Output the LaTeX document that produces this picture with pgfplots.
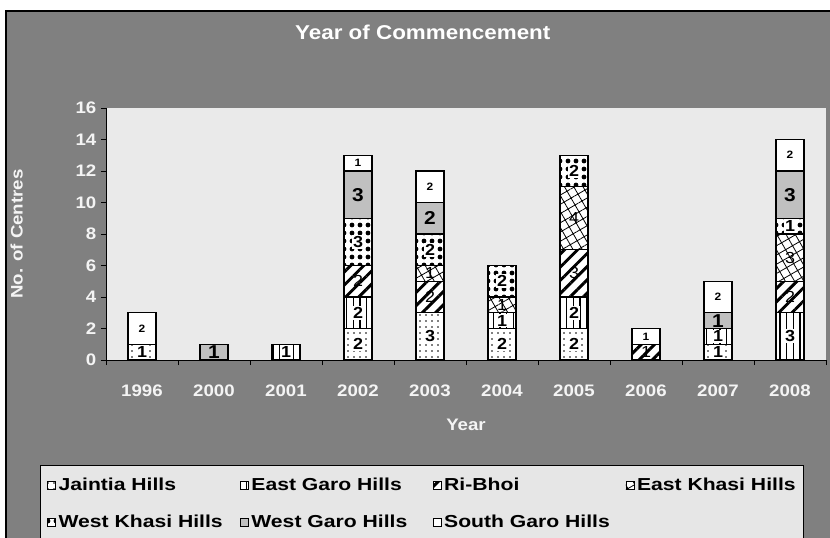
\documentclass[border=0pt]{standalone}
\usepackage{fontspec}
\setmainfont{Liberation Sans}[FakeStretch=1.12]
\newfontfamily\legfont{Liberation Sans}[FakeStretch=1.22]
\usepackage{pgfplots}
\pgfplotsset{compat=1.18}
\usepackage{pgfplotstable}
\usetikzlibrary{patterns,patterns.meta}
\definecolor{bgray}{HTML}{808080}
\definecolor{plotbg}{HTML}{EAEAEA}
\definecolor{legbg}{HTML}{E6E6E6}
\definecolor{wgh}{HTML}{C0C0C0}
\definecolor{lbl}{HTML}{F4F4F4}

\pgfplotstableread{
i JH EGH RB EKH WKH WGH SGH
0 1 0 0 0 0 0 2
1 0 0 0 0 0 1 0
2 0 1 0 0 0 0 0
3 2 2 2 0 3 3 1
4 3 0 2 1 2 2 2
5 2 1 0 1 2 0 0
6 2 2 3 4 2 0 0
7 0 0 1 0 0 0 1
8 1 1 0 0 0 1 2
9 0 3 2 3 1 3 2
}\data

\pgfplotsset{
  legsq/.style={legend image code/.code={\draw[##1,line width=0.6pt] (0pt,-3pt) rectangle (6pt,3pt);}},
  seg/.style={draw=black, line width=0.8pt, legsq,
    visualization depends on={\thisrow{#1} \as \segv},
    every node near coord/.append style={anchor=center, inner sep=0pt}},
}
\newcommand{\lblbox}[2]{\pgfmathparse{\segv>0.5}\ifnum\pgfmathresult>0 \setlength{\fboxsep}{1pt}\colorbox{white}{#1\pgfmathprintnumber[precision=0]{\segv}}\fi}
\newcommand{\lblplain}[2]{\pgfmathparse{\segv>0.5}\ifnum\pgfmathresult>0 {#1\pgfmathprintnumber[precision=0]{\segv}}\fi}

\begin{document}
\begin{tikzpicture}
\path[use as bounding box] (0,0) rectangle (622.5pt,-402.75pt);
\fill[white] (0,0) rectangle (622.5pt,-402.75pt);
\filldraw[fill=bgray, draw=black, line width=1pt] (4.5pt,-8.25pt) rectangle (624pt,-404pt);
\begin{axis}[
  at={(79.5pt,-270pt)}, anchor=south west,
  scale only axis, width=540pt, height=189pt,
  ybar stacked, bar width=21pt,
  xmin=-0.5, xmax=9.5, ymin=0, ymax=16,
  xtick={0,...,9},
  xticklabels={1996,2000,2001,2002,2003,2004,2005,2006,2007,2008},
  minor xtick={-0.5,0.5,...,9.5},
  ytick={0,2,...,16},
  axis x line*=bottom, axis y line*=left,
  axis line style={black, line width=0.75pt, -},
  tick align=outside,
  major x tick style={draw=none},
  minor tick length=3.75pt, major tick length=3.75pt,
  tick style={black, line width=0.75pt},
  axis background/.style={fill=plotbg},
  /pgf/number format/assume math mode=true,
  ticklabel style={font=\bfseries\fontsize{12.5}{12.5}\selectfont, text=lbl},
  xticklabel style={yshift=-11pt},
  title={Year of Commencement},
  title style={at={(axis description cs:0.44,1.27)}, anchor=center, text=white, font=\bfseries\fontsize{15}{15}\selectfont},
  xlabel={Year},
  xlabel style={at={(axis description cs:0.5,-0.258)}, anchor=center, text=lbl, font=\bfseries\fontsize{12.5}{12.5}\selectfont},
  ylabel={No. of Centres},
  ylabel style={at={(axis description cs:-0.124,0.5)}, anchor=center, text=lbl, font=\bfseries\fontsize{12.5}{12.5}\selectfont},
  legend columns=4,
  legend cell align=left,
  legend style={at={(axis description cs:-0.0917,-0.4167)}, anchor=north west,
    fill=legbg, draw=black, line width=0.75pt, inner xsep=5pt, inner ysep=7.5pt,
    row sep=13pt, font=\legfont\bfseries\fontsize{13}{13}\selectfont},
]
\addplot[seg=JH, fill=white, postaction={pattern={Dots[distance=4.5pt,radius=0.6pt]}},
  nodes near coords={\lblbox{\bfseries\fontsize{12}{12}\selectfont}{}}]
  table[x=i,y=JH]{\data};
\addlegendentry{\makebox[134pt][l]{Jaintia Hills}}
\addplot[seg=EGH, fill=white, postaction={pattern={Lines[angle=90,distance=5pt,line width=1pt]}},
  nodes near coords={\lblbox{\bfseries\fontsize{12}{12}\selectfont}{}}]
  table[x=i,y=EGH]{\data};
\addlegendentry{\makebox[134pt][l]{East Garo Hills}}
\addplot[seg=RB, fill=white, postaction={pattern={Lines[angle=45,distance=7pt,line width=2.2pt]}},
  nodes near coords={\lblplain{\fontsize{12}{12}\selectfont}{}}]
  table[x=i,y=RB]{\data};
\addlegendentry{\makebox[134pt][l]{Ri-Bhoi}}
\addplot[seg=EKH, fill=white, postaction={pattern={Hatch[angle=30,distance=6pt,line width=0.6pt]}},
  nodes near coords={\lblplain{\fontsize{12}{12}\selectfont}{}}]
  table[x=i,y=EKH]{\data};
\addlegendentry{\makebox[118pt][l]{East Khasi Hills}}
\addplot[seg=WKH, fill=white, postaction={pattern={Dots[distance=6pt,radius=1.8pt]}},
  nodes near coords={\lblbox{\bfseries\fontsize{12}{12}\selectfont}{}}]
  table[x=i,y=WKH]{\data};
\addlegendentry{\makebox[134pt][l]{West Khasi Hills}}
\addplot[seg=WGH, fill=wgh,
  nodes near coords={\lblplain{\bfseries\fontsize{14}{14}\selectfont}{}}]
  table[x=i,y=WGH]{\data};
\addlegendentry{\makebox[134pt][l]{West Garo Hills}}
\addplot[seg=SGH, fill=white,
  nodes near coords={\lblplain{\bfseries\fontsize{8}{8}\selectfont}{}}]
  table[x=i,y=SGH]{\data};
\addlegendentry{\makebox[134pt][l]{South Garo Hills}}
\end{axis}
\end{tikzpicture}
\end{document}
